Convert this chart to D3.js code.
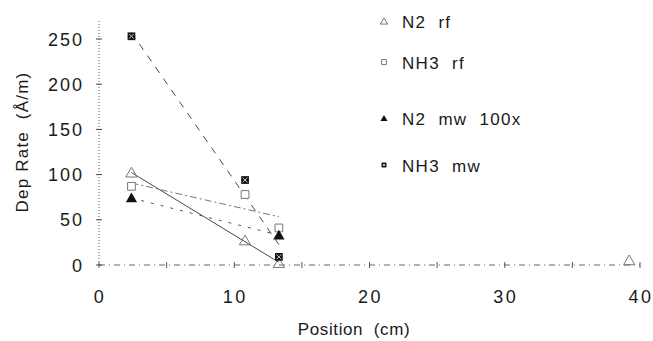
<!DOCTYPE html>
<html>
<head>
<meta charset="utf-8">
<script src="https://cdn.jsdelivr.net/npm/d3@7"></script>
<style>
body { margin: 0; background: #fff; }
text { font-family: "Liberation Sans", Arial, sans-serif; fill: #1a1a1a; white-space: pre; }
</style>
</head>
<body>
<svg id="chart" width="653" height="341"></svg>
<script>
// values
let posN2rf = [2.4, 10.8, 13.3, 39.2],
    valN2rf = [102, 27, 2, 5];
let posNH3rf = [2.4, 10.8, 13.3],
    valNH3rf = [87, 78, 41];
let posN2mw = [2.4, 13.3],
    valN2mw = [74, 33];
let posNH3mw = [2.4, 10.8, 13.3],
    valNH3mw = [253, 94, 9];
let xTicks = [0, 10, 20, 30, 40],
    xMinor = [5, 15, 25, 35],
    yTicks = [0, 50, 100, 150, 200, 250];
let legendNames = ["N2  rf", "NH3  rf", "N2  mw  100x", "NH3  mw"];

let svg = d3.select("#chart");
let x = d3.scaleLinear([0, 40], [99, 640]),
    y = d3.scaleLinear([0, 250], [265, 39]);

let series = [
    {name: legendNames[0], pos: posN2rf, val: valN2rf, mark: "openTri", dash: null, stroke: "#333"},
    {name: legendNames[1], pos: posNH3rf, val: valNH3rf, mark: "openSq", dash: "7,3,2,3", stroke: "#666"},
    {name: legendNames[2], pos: posN2mw, val: valN2mw, mark: "fillTri", dash: "3,7", stroke: "#444"},
    {name: legendNames[3], pos: posNH3mw, val: valNH3mw, mark: "fillSq", dash: "7,7", stroke: "#333"},
];

// least squares fit over the near points (pos < 20)
function fit(s) {
    let pts = s.pos.map((p, i) => [p, s.val[i]]).filter(d => d[0] < 20);
    let mx = d3.mean(pts, d => d[0]), my = d3.mean(pts, d => d[1]);
    let sxy = d3.sum(pts, d => (d[0] - mx) * (d[1] - my)),
        sxx = d3.sum(pts, d => (d[0] - mx) * (d[0] - mx));
    let b = sxy / sxx;
    let [x0, x1] = d3.extent(pts, d => d[0]);
    return [[x0, my + b * (x0 - mx)], [x1, my + b * (x1 - mx)]];
}

// axes
let axis = svg.append("g");
axis.append("line")
    .attr("x1", x(0)).attr("x2", x(0))
    .attr("y1", y(0)).attr("y2", y(272))
    .attr("stroke", "#444").attr("stroke-width", 0.9)
    .attr("stroke-dasharray", "1,2");
axis.append("line")
    .attr("x1", x(0)).attr("x2", x(40))
    .attr("y1", y(0)).attr("y2", y(0))
    .attr("stroke", "#555").attr("stroke-width", 0.9)
    .attr("stroke-dasharray", "6,4,1,4");
axis.selectAll(".yt").data(yTicks).join("line")
    .attr("x1", x(0) - 3).attr("x2", x(0) + 3)
    .attr("y1", d => y(d)).attr("y2", d => y(d))
    .attr("stroke", "#444");
axis.selectAll(".xt").data(xTicks.concat(xMinor)).join("line")
    .attr("x1", d => x(d)).attr("x2", d => x(d))
    .attr("y1", y(0) - 3).attr("y2", y(0) + 3)
    .attr("stroke", "#555");
axis.selectAll(".yl").data(yTicks).join("text")
    .attr("x", 84).attr("y", d => y(d) + 6.5)
    .attr("text-anchor", "end")
    .attr("font-size", 18).attr("letter-spacing", 2)
    .text(d => d);
axis.selectAll(".xl").data(xTicks).join("text")
    .attr("x", d => x(d) + 1).attr("y", 303)
    .attr("text-anchor", "middle")
    .attr("font-size", 18).attr("letter-spacing", 2.5)
    .text(d => d);
axis.append("text")
    .attr("x", 354).attr("y", 335)
    .attr("text-anchor", "middle")
    .attr("font-size", 17).attr("letter-spacing", 0.6)
    .text("Position  (cm)");
axis.append("text")
    .attr("transform", "translate(28, 142) rotate(-90)")
    .attr("text-anchor", "middle")
    .attr("font-size", 17).attr("letter-spacing", 1.2)
    .text("Dep Rate  (Å/m)");

// fit lines
let line = d3.line().x(d => x(d[0])).y(d => y(d[1]));
svg.append("g").selectAll("path").data(series).join("path")
    .attr("d", s => line(fit(s)))
    .attr("fill", "none")
    .attr("stroke", s => s.stroke)
    .attr("stroke-width", 0.9)
    .attr("stroke-dasharray", s => s.dash);

function drawMark(g, kind, cx, cy, k) {
    let tri = d3.symbol(d3.symbolTriangle, 55 * k)(),
        sq = d3.symbol(d3.symbolSquare, 60 * k)();
    if (kind == "openTri") {
        g.append("path").attr("d", tri).attr("transform", `translate(${cx},${cy + 1})`)
            .attr("fill", "none").attr("stroke", "#777").attr("stroke-width", 1);
    } else if (kind == "openSq") {
        g.append("path").attr("d", sq).attr("transform", `translate(${cx},${cy})`)
            .attr("fill", "#fff").attr("stroke", "#777").attr("stroke-width", 1);
    } else if (kind == "fillTri") {
        g.append("path").attr("d", tri).attr("transform", `translate(${cx},${cy + 1})`)
            .attr("fill", "#111");
    } else {
        let h = Math.sqrt(60 * k) / 2 - 1.5;
        g.append("path").attr("d", sq).attr("transform", `translate(${cx},${cy})`)
            .attr("fill", "#111");
        g.append("path")
            .attr("d", `M${cx - h},${cy - h}L${cx + h},${cy + h}M${cx + h},${cy - h}L${cx - h},${cy + h}`)
            .attr("stroke", "#ccc").attr("stroke-width", 1);
    }
}

// points
let marks = svg.append("g");
series.forEach(s => {
    s.pos.forEach((p, i) => drawMark(marks, s.mark, x(p), y(s.val[i]), 1));
});

// legend
let legendY = [22, 63, 119, 166];
let legend = svg.append("g");
series.forEach((s, i) => {
    drawMark(legend, s.mark, 384, legendY[i] - 1, 0.4);
    legend.append("text")
        .attr("x", 402).attr("y", legendY[i] + 6)
        .attr("font-size", 17).attr("letter-spacing", 1.3)
        .text(s.name);
});
</script>
</body>
</html>
